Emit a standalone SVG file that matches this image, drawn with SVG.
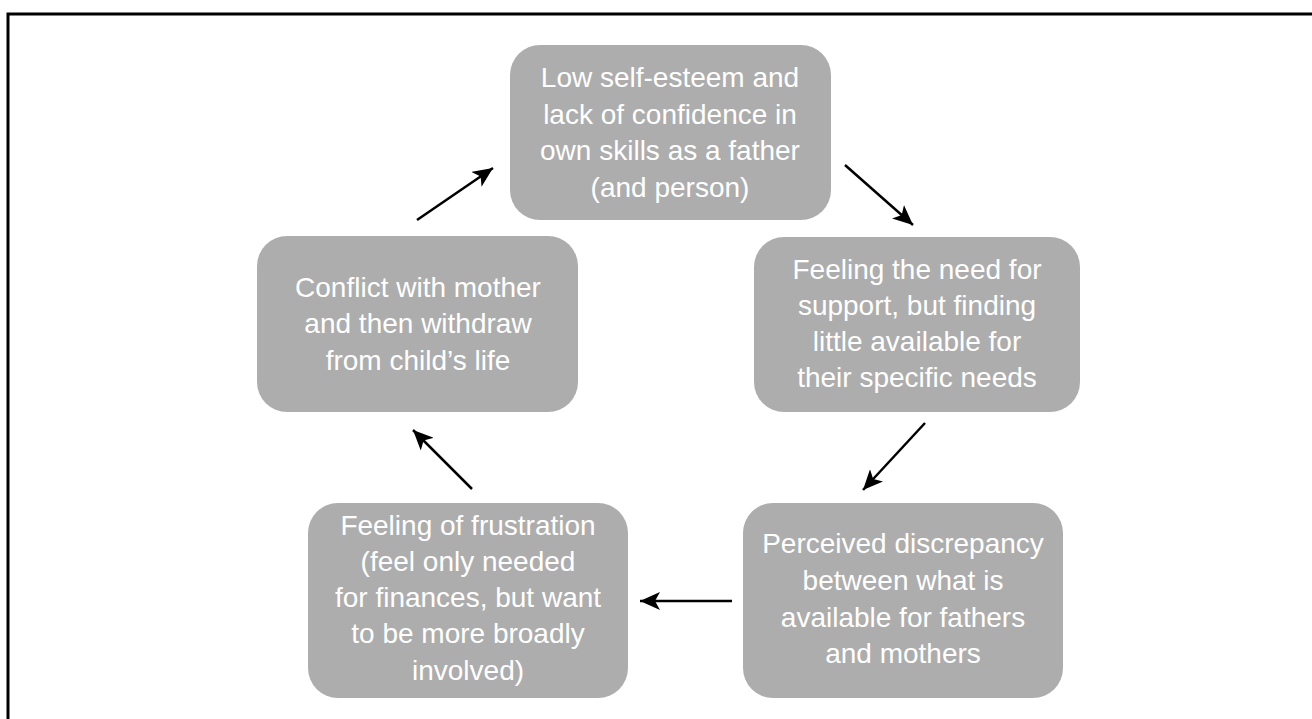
<svg xmlns="http://www.w3.org/2000/svg" width="1312" height="719" viewBox="0 0 1312 719">
<style>
.box{fill:#adadad;}
.t{font-family:"Liberation Sans",Arial,sans-serif;font-size:28px;fill:#ffffff;text-anchor:middle;}
.c{stroke:#000;stroke-width:2.5;fill:none;marker-end:url(#ah);}
</style>
<defs>
<marker id="ah" markerUnits="userSpaceOnUse" markerWidth="22" markerHeight="18" refX="20" refY="9" orient="auto">
<path d="M0,0 L20,9 L0,18 L5,9 Z" fill="#000"/>
</marker>
</defs>
<rect width="1312" height="719" fill="#fff"/>
<rect x="8" y="14" width="1330" height="730" fill="none" stroke="#000" stroke-width="3"/>
<g id="n1">
<rect class="box" x="510" y="45" width="321" height="175" rx="30"/>
<text class="t"><tspan x="670" y="87">Low self-esteem and</tspan><tspan x="670" y="124">lack of confidence in</tspan><tspan x="670" y="160">own skills as a father</tspan><tspan x="670" y="197">(and person)</tspan></text>
</g>
<g id="n2">
<rect class="box" x="754" y="237" width="326" height="175" rx="30"/>
<text class="t"><tspan x="917" y="279">Feeling the need for</tspan><tspan x="917" y="315">support, but finding</tspan><tspan x="917" y="351">little available for</tspan><tspan x="917" y="387">their specific needs</tspan></text>
</g>
<g id="n3">
<rect class="box" x="257" y="236" width="321" height="176" rx="30"/>
<text class="t"><tspan x="418" y="297">Conflict with mother</tspan><tspan x="418" y="333">and then withdraw</tspan><tspan x="418" y="370">from child’s life</tspan></text>
</g>
<g id="n4">
<rect class="box" x="308" y="503" width="320" height="195" rx="30"/>
<text class="t"><tspan x="468" y="535">Feeling of frustration</tspan><tspan x="468" y="571">(feel only needed</tspan><tspan x="468" y="607">for finances, but want</tspan><tspan x="468" y="643">to be more broadly</tspan><tspan x="468" y="680">involved)</tspan></text>
</g>
<g id="n5">
<rect class="box" x="743" y="503" width="320" height="195" rx="30"/>
<text class="t"><tspan x="903" y="553">Perceived discrepancy</tspan><tspan x="903" y="590">between what is</tspan><tspan x="903" y="627">available for fathers</tspan><tspan x="903" y="663">and mothers</tspan></text>
</g>
<g id="connectors">
<line class="c" x1="417" y1="220" x2="493" y2="168"/>
<line class="c" x1="845" y1="165" x2="913" y2="225"/>
<line class="c" x1="925" y1="423" x2="863" y2="490"/>
<line class="c" x1="732" y1="601" x2="640" y2="601"/>
<line class="c" x1="472" y1="489" x2="413" y2="430"/>
</g>
</svg>
